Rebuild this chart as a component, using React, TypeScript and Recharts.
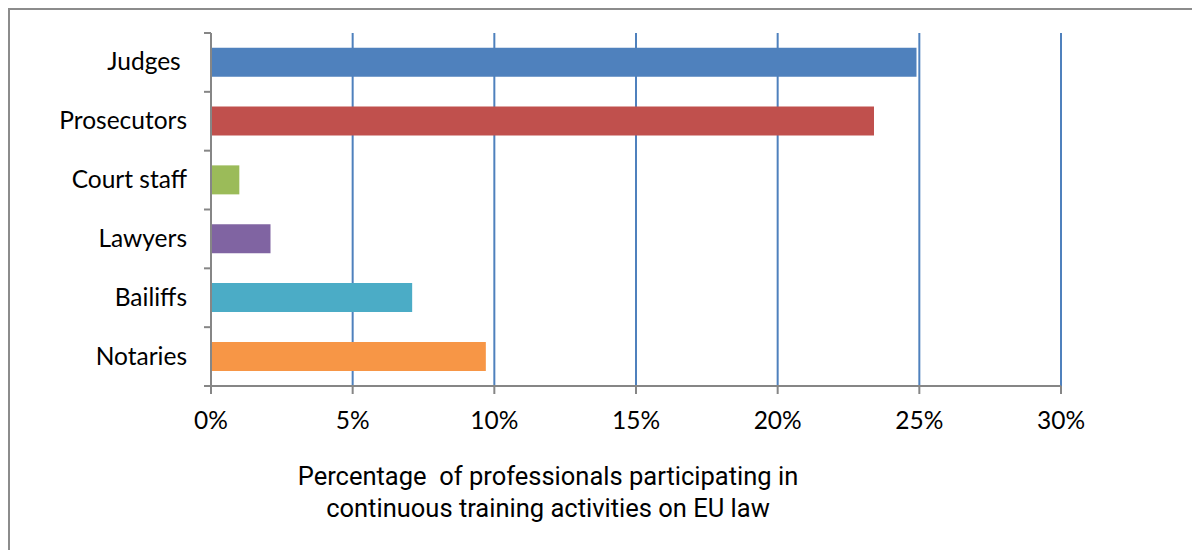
import React from "react";
import { BarChart, Bar, XAxis, YAxis, CartesianGrid, Cell } from "recharts";

const professions = ["Judges\u00a0", "Prosecutors", "Court staff", "Lawyers", "Bailiffs", "Notaries"];
const shares = [24.9, 23.4, 1.0, 2.1, 7.1, 9.7];
const barColors = ["#4F81BD", "#C0504D", "#9BBB59", "#8064A2", "#4BACC6", "#F79646"];
const xTicks = [0, 5, 10, 15, 20, 25, 30];
const titleLines = [
  "Percentage\u00a0 of professionals participating in",
  "continuous training activities on EU law",
];

const data = professions.map((name, i) => ({ name, value: shares[i] }));

const AXIS_GRAY = "#868686";
const LABEL_FONT = "Lato, 'Open Sans', sans-serif";

const CategoryTick = (props: any) => {
  const { x, y, payload, index, visibleTicksCount } = props;
  const half = payload && payload.offset ? payload.offset : 29.4;
  const count = visibleTicksCount || professions.length;
  return (
    <g>
      <line x1={x + 17} x2={x + 24} y1={y - half} y2={y - half} stroke={AXIS_GRAY} strokeWidth={2} />
      {index === count - 1 && (
        <line x1={x + 17} x2={x + 24} y1={y + half} y2={y + half} stroke={AXIS_GRAY} strokeWidth={2} />
      )}
      <text x={x} y={y} dy={8} textAnchor="end" fill="#000" fontSize={24.5} fontFamily={LABEL_FONT}>
        {payload.value}
      </text>
    </g>
  );
};

const TitleLabel = (props: any) => {
  const { viewBox } = props;
  const cx = viewBox.x + viewBox.width / 2 - 88;
  return (
    <text textAnchor="middle" fill="#000" fontSize={25.5} fontFamily="'Liberation Sans Narrow', Roboto, sans-serif">
      {titleLines.map((line, i) => (
        <tspan key={i} x={cx} y={485 + i * 32}>
          {line}
        </tspan>
      ))}
    </text>
  );
};

export default function App() {
  return (
    <div style={{ position: "absolute", left: 0, top: 0, width: 1192, height: 550, overflow: "hidden", background: "#fff" }}>
      <div
        style={{
          position: "absolute",
          left: 8,
          top: 8,
          width: 1200,
          height: 600,
          border: "2px solid #8c8c8c",
          boxSizing: "border-box",
        }}
      />
      <div style={{ position: "absolute", left: 0, top: 0 }}>
        <BarChart
          width={1192}
          height={550}
          data={data}
          layout="vertical"
          margin={{ top: 33, right: 131, bottom: 134, left: 0 }}
          barCategoryGap="25%"
        >
          <CartesianGrid horizontal={false} stroke="#4F81BD" strokeWidth={2} />
          <XAxis
            type="number"
            domain={[0, 30]}
            ticks={xTicks}
            tickFormatter={(v: number) => `${v}%`}
            height={30}
            axisLine={{ stroke: AXIS_GRAY, strokeWidth: 2 }}
            tickLine={{ stroke: AXIS_GRAY, strokeWidth: 2 }}
            tickSize={8}
            tickMargin={18}
            tick={{ fill: "#000", fontSize: 24.5, fontFamily: LABEL_FONT }}
            interval={0}
            label={<TitleLabel />}
          />
          <YAxis
            type="category"
            dataKey="name"
            width={211}
            axisLine={{ stroke: AXIS_GRAY, strokeWidth: 2 }}
            tickLine={false}
            tickSize={7}
            tickMargin={17}
            tick={<CategoryTick />}
            interval={0}
          />
          <Bar dataKey="value" isAnimationActive={false}>
            {data.map((d, i) => (
              <Cell key={d.name} fill={barColors[i]} />
            ))}
          </Bar>
        </BarChart>
      </div>
    </div>
  );
}
